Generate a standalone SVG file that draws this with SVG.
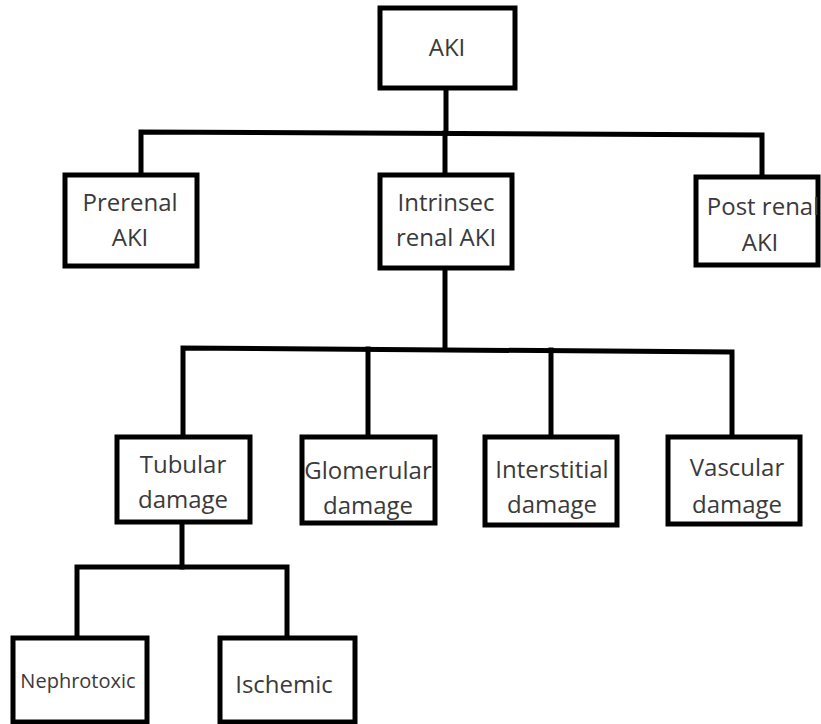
<svg xmlns="http://www.w3.org/2000/svg" width="821" height="724" viewBox="0 0 821 724">
<style>
.box{fill:#fff;stroke:#000;stroke-width:5}
.con{fill:none;stroke:#000;stroke-width:5;stroke-linejoin:miter;stroke-linecap:square}
text{font-family:"Open Sans","Noto Sans","Liberation Sans",sans-serif;font-size:24px;fill:#3a3a3a;text-anchor:middle}
.sm{font-size:20px}
</style>
<rect width="821" height="724" fill="#fff"/>
<g id="connectors">
<polyline class="con" points="446,88 446,133"/>
<polyline class="con" points="141,175 141,132 762,135 762,177"/>
<polyline class="con" points="445,133 445,175"/>
<polyline class="con" points="445,268 445,348"/>
<polyline class="con" points="183,437 183,348 732,352 732,437"/>
<polyline class="con" points="368,349 368,437"/>
<polyline class="con" points="551,350 551,437"/>
<polyline class="con" points="182,522 182,567"/>
<polyline class="con" points="77,638 77,567 287,567 287,638"/>
</g>
<g id="aki"><rect class="box" x="380" y="8" width="135" height="80"/><text x="447" y="56">AKI</text></g>
<g id="prerenal"><rect class="box" x="65" y="175" width="132" height="91"/><text x="130" y="211">Prerenal</text><text x="130" y="246">AKI</text></g>
<g id="intrinsec"><rect class="box" x="380" y="175" width="132" height="93"/><text x="446" y="211">Intrinsec</text><text x="446" y="246">renal AKI</text></g>
<g id="postrenal"><rect class="box" x="696" y="177" width="122" height="88"/><text x="763" y="215">Post renal</text><text x="760" y="251">AKI</text></g>
<g id="tubular"><rect class="box" x="117" y="437" width="133" height="85"/><text x="183" y="473">Tubular</text><text x="183" y="508">damage</text></g>
<g id="glomerular"><rect class="box" x="302" y="437" width="133" height="86"/><text x="368" y="479">Glomerular</text><text x="368" y="514">damage</text></g>
<g id="interstitial"><rect class="box" x="485" y="437" width="132" height="88"/><text x="552" y="478">Interstitial</text><text x="552" y="513">damage</text></g>
<g id="vascular"><rect class="box" x="668" y="437" width="132" height="87"/><text x="737" y="476">Vascular</text><text x="737" y="513">damage</text></g>
<g id="nephrotoxic"><rect class="box" x="13" y="638" width="134" height="84"/><text class="sm" x="78" y="688">Nephrotoxic</text></g>
<g id="ischemic"><rect class="box" x="220" y="638" width="135" height="84"/><text x="284" y="693">Ischemic</text></g>
</svg>
